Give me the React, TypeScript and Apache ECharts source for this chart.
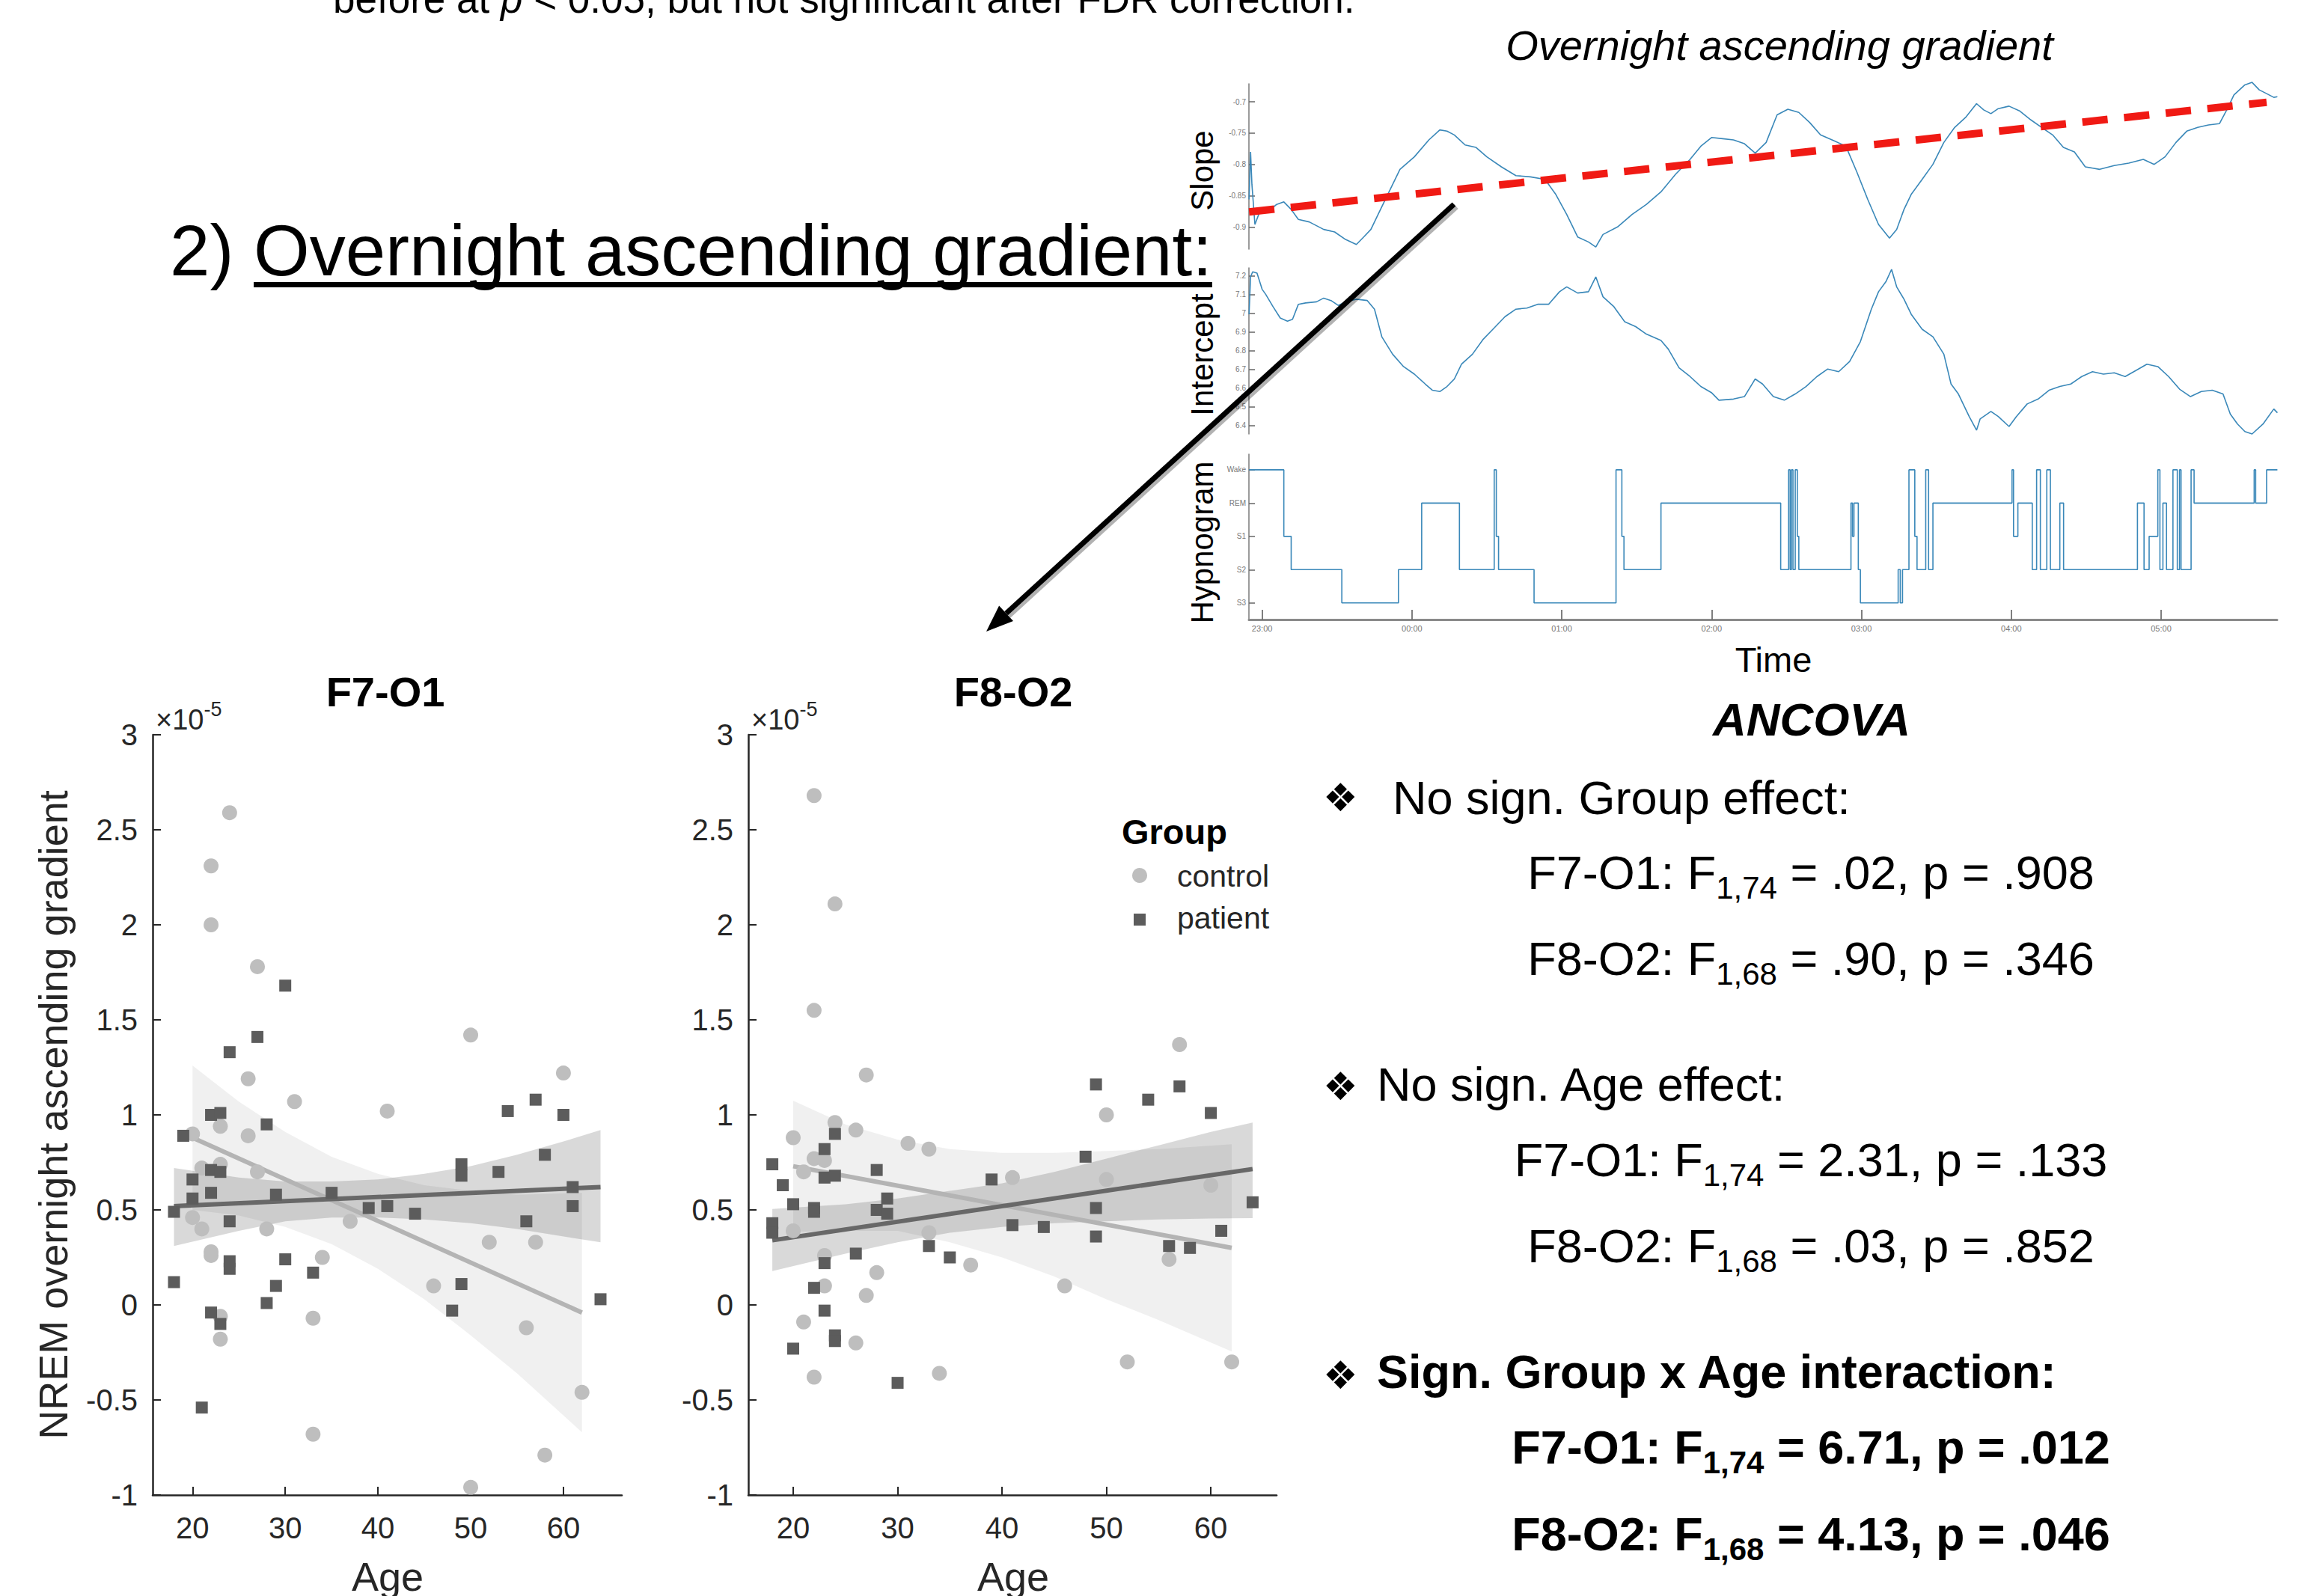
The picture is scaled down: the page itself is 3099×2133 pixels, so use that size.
import React, { useEffect, useRef } from 'react';
import * as echarts from 'echarts';

const FONT = '"Liberation Sans", Arial, Helvetica, sans-serif';
const W = 3099;
const H = 2133;

// ---------------- Top-right panel (time = hours after 23:00) ----------------
const slopeTrace: number[][] = [
  [-0.087, -0.856], [-0.077, -0.78], [-0.068, -0.832], [-0.048, -0.896], [-0.01, -0.872], [0.039, -0.876],
  [0.097, -0.864], [0.145, -0.86], [0.194, -0.872], [0.242, -0.888], [0.315, -0.892], [0.411, -0.904],
  [0.484, -0.908], [0.557, -0.92], [0.629, -0.928], [0.678, -0.916], [0.726, -0.904], [0.774, -0.88],
  [0.847, -0.844], [0.92, -0.808], [1.016, -0.788], [1.113, -0.761], [1.186, -0.745], [1.234, -0.747],
  [1.283, -0.753], [1.355, -0.769], [1.428, -0.773], [1.5, -0.788], [1.597, -0.804], [1.694, -0.818],
  [1.791, -0.82], [1.888, -0.824], [1.96, -0.848], [2.033, -0.88], [2.106, -0.916], [2.178, -0.924],
  [2.227, -0.932], [2.275, -0.912], [2.372, -0.9], [2.469, -0.88], [2.565, -0.864], [2.662, -0.844],
  [2.759, -0.816], [2.856, -0.792], [2.928, -0.771], [3.001, -0.757], [3.074, -0.759], [3.146, -0.761],
  [3.219, -0.767], [3.291, -0.782], [3.364, -0.765], [3.437, -0.721], [3.509, -0.712], [3.582, -0.717],
  [3.654, -0.733], [3.727, -0.753], [3.824, -0.763], [3.896, -0.771], [3.969, -0.812], [4.042, -0.856],
  [4.114, -0.896], [4.187, -0.918], [4.235, -0.904], [4.284, -0.872], [4.332, -0.848], [4.405, -0.824],
  [4.477, -0.8], [4.55, -0.765], [4.622, -0.741], [4.695, -0.725], [4.768, -0.703], [4.816, -0.713],
  [4.864, -0.719], [4.913, -0.711], [4.985, -0.707], [5.058, -0.715], [5.131, -0.729], [5.203, -0.741],
  [5.276, -0.753], [5.348, -0.773], [5.421, -0.78], [5.494, -0.804], [5.59, -0.808], [5.687, -0.802],
  [5.784, -0.798], [5.881, -0.792], [5.954, -0.8], [6.026, -0.788], [6.099, -0.765], [6.171, -0.747],
  [6.244, -0.741], [6.316, -0.737], [6.389, -0.735], [6.438, -0.713], [6.486, -0.689], [6.559, -0.673],
  [6.607, -0.669], [6.655, -0.681], [6.704, -0.687], [6.752, -0.693], [6.776, -0.692],
];
const slopeTrend: number[][] = [[-0.087, -0.876], [6.704, -0.7008]];

const interceptTrace: number[][] = [
  [-0.087, 6.994], [-0.077, 7.193], [-0.063, 7.22], [-0.034, 7.213], [0.0, 7.127], [0.024, 7.1],
  [0.073, 7.034], [0.121, 6.974], [0.169, 6.957], [0.203, 6.967], [0.242, 7.047], [0.29, 7.054],
  [0.363, 7.06], [0.411, 7.08], [0.46, 7.067], [0.508, 7.041], [0.557, 7.06], [0.629, 7.074],
  [0.702, 7.067], [0.75, 7.021], [0.799, 6.874], [0.871, 6.781], [0.944, 6.715], [1.016, 6.675],
  [1.089, 6.622], [1.137, 6.589], [1.186, 6.582], [1.234, 6.609], [1.283, 6.649], [1.331, 6.728],
  [1.404, 6.781], [1.476, 6.861], [1.549, 6.921], [1.621, 6.981], [1.694, 7.021], [1.767, 7.027],
  [1.839, 7.047], [1.912, 7.047], [1.985, 7.114], [2.033, 7.14], [2.106, 7.107], [2.178, 7.114],
  [2.227, 7.193], [2.275, 7.087], [2.348, 7.034], [2.42, 6.954], [2.493, 6.928], [2.565, 6.888],
  [2.662, 6.854], [2.711, 6.808], [2.783, 6.708], [2.856, 6.662], [2.928, 6.609], [3.001, 6.575],
  [3.049, 6.536], [3.146, 6.542], [3.219, 6.555], [3.291, 6.649], [3.34, 6.622], [3.412, 6.555],
  [3.485, 6.536], [3.558, 6.569], [3.63, 6.609], [3.703, 6.662], [3.775, 6.702], [3.848, 6.688],
  [3.921, 6.742], [3.993, 6.848], [4.066, 7.021], [4.114, 7.114], [4.163, 7.167], [4.201, 7.233],
  [4.235, 7.14], [4.284, 7.074], [4.332, 6.994], [4.405, 6.914], [4.477, 6.874], [4.55, 6.781],
  [4.598, 6.622], [4.647, 6.569], [4.719, 6.449], [4.768, 6.376], [4.792, 6.436], [4.864, 6.476],
  [4.913, 6.449], [4.985, 6.396], [5.034, 6.449], [5.106, 6.516], [5.179, 6.542], [5.252, 6.589],
  [5.324, 6.609], [5.397, 6.622], [5.47, 6.662], [5.542, 6.688], [5.615, 6.675], [5.687, 6.682],
  [5.76, 6.662], [5.833, 6.695], [5.905, 6.728], [5.978, 6.715], [6.05, 6.662], [6.123, 6.595],
  [6.196, 6.555], [6.268, 6.582], [6.341, 6.589], [6.413, 6.569], [6.462, 6.462], [6.51, 6.409],
  [6.559, 6.369], [6.607, 6.356], [6.68, 6.409], [6.752, 6.489], [6.776, 6.469],
];

// stage codes: 0 = S3, 1 = S2, 2 = S1, 3 = REM, 4 = Wake
const hypnogram: number[][] = [
  [-0.087, 4], [0.145, 2], [0.194, 1], [0.532, 0], [0.91, 1], [1.065, 3], [1.317, 1], [1.549, 4],
  [1.563, 2], [1.578, 1], [1.815, 0], [2.362, 4], [2.401, 2], [2.415, 1], [2.662, 3], [3.461, 1],
  [3.514, 4], [3.524, 1], [3.533, 4], [3.543, 1], [3.558, 4], [3.572, 2], [3.582, 1], [3.93, 3],
  [3.94, 2], [3.95, 3], [3.979, 1], [3.993, 0], [4.245, 1], [4.259, 0], [4.274, 1], [4.317, 4],
  [4.356, 2], [4.371, 1], [4.429, 4], [4.448, 1], [4.477, 3], [5.005, 4], [5.015, 2], [5.044, 3],
  [5.14, 1], [5.169, 4], [5.194, 1], [5.237, 4], [5.261, 1], [5.324, 3], [5.349, 1], [5.842, 3],
  [5.886, 1], [5.92, 2], [5.978, 4], [5.992, 1], [6.012, 3], [6.036, 1], [6.079, 4], [6.108, 1],
  [6.123, 4], [6.133, 1], [6.2, 4], [6.22, 3], [6.621, 4], [6.631, 3], [6.704, 4], [6.776, 4],
];
const stageNames = ['S3', 'S2', 'S1', 'REM', 'Wake'];
const stageTicks = [0, 1, 2, 3, 4];
const clockTicks = [0, 1, 2, 3, 4, 5, 6];
const clockLabels = ['23:00', '00:00', '01:00', '02:00', '03:00', '04:00', '05:00'];
const slopeTicks = [-0.9, -0.85, -0.8, -0.75, -0.7];
const interceptTicks = [6.4, 6.5, 6.6, 6.7, 6.8, 6.9, 7, 7.1, 7.2];

// ---------------- Scatter panels (values x 1e-5) ----------------
const ageTicks = [20, 30, 40, 50, 60];

const f7Control: number[][] = [
  [24, 2.59], [22, 2.31], [22, 2.0], [27, 1.78], [50, 1.42], [26, 1.19], [60, 1.22], [31, 1.07],
  [41, 1.02], [23, 0.94], [20, 0.9], [26, 0.89], [21, 0.72], [23, 0.74], [27, 0.7], [20, 0.46],
  [21, 0.4], [28, 0.4], [37, 0.44], [22, 0.28], [22, 0.26], [34, 0.25], [52, 0.33], [57, 0.33],
  [46, 0.1], [23, -0.06], [33, -0.07], [23, -0.18], [56, -0.12], [62, -0.46], [33, -0.68],
  [58, -0.79], [50, -0.96],
];
const f7Patient: number[][] = [
  [30, 1.68], [27, 1.41], [24, 1.33], [22, 1.0], [23, 1.01], [54, 1.02], [57, 1.08], [60, 1.0],
  [28, 0.95], [19, 0.89], [20, 0.66], [22, 0.71], [23, 0.7], [20, 0.56], [22, 0.59], [29, 0.58],
  [35, 0.59], [18, 0.49], [39, 0.51], [41, 0.52], [44, 0.48], [49, 0.74], [49, 0.68], [53, 0.7],
  [58, 0.79], [61, 0.62], [61, 0.52], [56, 0.44], [24, 0.44], [24, 0.23], [24, 0.19], [30, 0.24],
  [33, 0.17], [18, 0.12], [29, 0.1], [28, 0.01], [22, -0.04], [23, -0.1], [49, 0.11], [48, -0.03],
  [64, 0.03], [21, -0.54],
];
const f7ControlFit: number[][] = [[20, 0.88], [62, -0.04]];
const f7PatientFit: number[][] = [[18, 0.52], [64, 0.62]];
const f7ControlBandAge = [20, 25, 30, 35, 40, 45, 50, 55, 62];
const f7ControlBandHi = [1.26, 1.07, 0.91, 0.78, 0.69, 0.63, 0.6, 0.58, 0.59];
const f7ControlBandLo = [0.5, 0.47, 0.41, 0.32, 0.19, 0.03, -0.16, -0.36, -0.67];
const f7PatientBandAge = [18, 25, 30, 35, 40, 45, 50, 55, 60, 64];
const f7PatientBandHi = [0.72, 0.67, 0.65, 0.65, 0.66, 0.69, 0.73, 0.79, 0.86, 0.92];
const f7PatientBandLo = [0.31, 0.39, 0.44, 0.46, 0.46, 0.45, 0.43, 0.4, 0.36, 0.33];

const f8Control: number[][] = [
  [22, 2.68], [24, 2.11], [22, 1.55], [27, 1.21], [57, 1.37], [50, 1.0], [24, 0.96], [26, 0.92],
  [20, 0.88], [31, 0.85], [33, 0.82], [22, 0.77], [23, 0.76], [21, 0.7], [41, 0.67], [50, 0.66],
  [60, 0.63], [20, 0.39], [33, 0.38], [23, 0.26], [56, 0.24], [37, 0.21], [28, 0.17], [23, 0.1],
  [46, 0.1], [27, 0.05], [21, -0.09], [26, -0.2], [52, -0.3], [62, -0.3], [34, -0.36], [22, -0.38],
];
const f8Patient: number[][] = [
  [49, 1.16], [57, 1.15], [54, 1.08], [60, 1.01], [24, 0.9], [23, 0.82], [18, 0.74], [28, 0.71],
  [24, 0.68], [23, 0.67], [19, 0.63], [48, 0.78], [39, 0.66], [20, 0.53], [22, 0.51], [22, 0.49],
  [29, 0.56], [28, 0.5], [29, 0.48], [18, 0.43], [18, 0.38], [49, 0.51], [64, 0.54], [41, 0.42],
  [44, 0.41], [49, 0.36], [61, 0.39], [56, 0.31], [58, 0.3], [33, 0.31], [35, 0.25], [26, 0.27],
  [23, 0.22], [22, 0.09], [23, -0.03], [24, -0.16], [24, -0.19], [20, -0.23], [30, -0.41],
];
const f8ControlFit: number[][] = [[20, 0.73], [62, 0.3]];
const f8PatientFit: number[][] = [[18, 0.34], [64, 0.715]];
const f8ControlBandAge = [20, 25, 30, 35, 40, 45, 50, 55, 62];
const f8ControlBandHi = [1.075, 0.95, 0.87, 0.82, 0.8, 0.8, 0.81, 0.82, 0.845];
const f8ControlBandLo = [0.385, 0.39, 0.39, 0.33, 0.25, 0.15, 0.03, -0.08, -0.245];
const f8PatientBandAge = [18, 25, 30, 35, 40, 45, 50, 55, 60, 64];
const f8PatientBandHi = [0.505, 0.53, 0.56, 0.6, 0.64, 0.7, 0.77, 0.84, 0.91, 0.96];
const f8PatientBandLo = [0.178, 0.27, 0.33, 0.38, 0.41, 0.43, 0.44, 0.45, 0.455, 0.457];

// ---------------- colours ----------------
const CONTROL = '#bebebe';
const PATIENT = '#5c5c5c';
const CONTROL_FIT = '#b4b4b4';
const PATIENT_FIT = '#686868';
const CONTROL_BAND = 'rgba(0,0,0,0.06)';
const PATIENT_BAND = 'rgba(0,0,0,0.15)';
const TRACE = '#3a88b9';
const AXIS = '#262626';

// ---------------- text helpers ----------------
let measureCtx: CanvasRenderingContext2D | null = null;
function textWidth(t: string, size: number, bold?: boolean, italic?: boolean, family?: string) {
  if (!measureCtx) measureCtx = document.createElement('canvas').getContext('2d');
  const ctx = measureCtx!;
  ctx.font = `${italic ? 'italic' : 'normal'} ${bold ? 'bold' : 'normal'} ${size}px ${family || FONT}`;
  return ctx.measureText(t).width;
}
type Seg = { t: string; size: number; bold?: boolean; italic?: boolean; dy?: number; family?: string };
function textEl(t: string, x: number, y: number, size: number, opts: any = {}) {
  return {
    type: 'text',
    x,
    y,
    rotation: opts.rotation || 0,
    z: 50,
    silent: true,
    style: {
      text: t,
      fontSize: size,
      fontFamily: opts.family || FONT,
      fontWeight: opts.bold ? 'bold' : 'normal',
      fontStyle: opts.italic ? 'italic' : 'normal',
      fill: opts.color || '#000',
      align: opts.align || 'left',
      textAlign: opts.align || 'left',
      verticalAlign: 'middle',
      textVerticalAlign: 'middle',
    },
  };
}
// baseline-based line with mixed segments
function lineEls(segs: Seg[], x: number, baseline: number, align: 'left' | 'center', color = '#000') {
  const widths = segs.map((s) => textWidth(s.t, s.size, s.bold, s.italic, s.family));
  const total = widths.reduce((a, b) => a + b, 0);
  let cx = align === 'center' ? x - total / 2 : x;
  const els: any[] = [];
  segs.forEach((s, i) => {
    els.push(
      textEl(s.t, cx, baseline + (s.dy || 0) - 0.3465 * s.size, s.size, {
        bold: s.bold,
        italic: s.italic,
        family: s.family,
        color,
      })
    );
    cx += widths[i];
  });
  return els;
}
function statLine(label: string, df: string, rest: string, bold: boolean, baseline: number) {
  return lineEls(
    [
      { t: label + ' F', size: 63, bold },
      { t: df, size: 42, bold, dy: 13 },
      { t: rest, size: 63, bold },
    ],
    2420,
    baseline,
    'center'
  );
}

// ---------------- series helpers ----------------
function bandSeries(idx: number, ages: number[], hi: number[], lo: number[], color: string) {
  return {
    type: 'custom',
    xAxisIndex: idx,
    yAxisIndex: idx,
    silent: true,
    clip: false,
    z: 1,
    data: [[ages[0], lo[0]]],
    renderItem: (_p: any, api: any) => {
      const pts: number[][] = [];
      for (let i = 0; i < ages.length; i++) pts.push(api.coord([ages[i], hi[i]]));
      for (let i = ages.length - 1; i >= 0; i--) pts.push(api.coord([ages[i], lo[i]]));
      return { type: 'polygon', shape: { points: pts }, style: { fill: color } };
    },
  };
}
function fitSeries(idx: number, data: number[][], color: string) {
  return {
    type: 'line',
    xAxisIndex: idx,
    yAxisIndex: idx,
    data,
    showSymbol: false,
    silent: true,
    z: 3,
    lineStyle: { color, width: 6 },
  };
}
function pointSeries(idx: number, data: number[][], symbol: string, size: number, color: string) {
  return {
    type: 'scatter',
    xAxisIndex: idx,
    yAxisIndex: idx,
    data,
    symbol,
    symbolSize: size,
    silent: true,
    z: 4,
    itemStyle: { color, opacity: 1 },
  };
}

function scatterXAxis(gridIndex: number) {
  return {
    type: 'value',
    gridIndex,
    min: 15.7,
    max: 66.3,
    axisLine: { show: true, onZero: false, lineStyle: { color: AXIS, width: 2.5 } },
    axisTick: { show: true, inside: true, length: 11, customValues: ageTicks, lineStyle: { color: AXIS, width: 2 } },
    axisLabel: { show: true, customValues: ageTicks, fontSize: 40, color: AXIS, fontFamily: FONT, margin: 24 },
    splitLine: { show: false },
  };
}
function scatterYAxis(gridIndex: number) {
  return {
    type: 'value',
    gridIndex,
    min: -1,
    max: 3,
    interval: 0.5,
    axisLine: { show: true, onZero: false, lineStyle: { color: AXIS, width: 2.5 } },
    axisTick: { show: true, inside: true, length: 11, lineStyle: { color: AXIS, width: 2 } },
    axisLabel: { show: true, fontSize: 40, color: AXIS, fontFamily: FONT, margin: 20 },
    splitLine: { show: false },
  };
}
function timeXAxis(gridIndex: number, visible: boolean) {
  return {
    type: 'value',
    gridIndex,
    min: -0.088,
    max: 6.774,
    axisLine: { show: visible, onZero: false, lineStyle: { color: '#8a8a8a', width: 3 } },
    axisTick: {
      show: visible,
      inside: true,
      length: 13,
      customValues: clockTicks,
      lineStyle: { color: '#555', width: 1.5 },
    },
    axisLabel: {
      show: visible,
      customValues: clockTicks,
      formatter: (v: number) => clockLabels[Math.round(v)] || '',
      fontSize: 11,
      color: '#777',
      fontFamily: FONT,
      margin: 6,
    },
    splitLine: { show: false },
  };
}
function smallYAxis(gridIndex: number, min: number, max: number, ticks: number[], fmt?: (v: number) => string) {
  return {
    type: 'value',
    gridIndex,
    min,
    max,
    axisLine: { show: true, onZero: false, lineStyle: { color: '#7a7a7a', width: 1.5 } },
    axisTick: { show: true, inside: true, length: 8, customValues: ticks, lineStyle: { color: '#666', width: 1.5 } },
    axisLabel: {
      show: true,
      customValues: ticks,
      formatter: fmt || ((v: number) => String(Math.round(v * 100) / 100)),
      fontSize: 10,
      color: '#777',
      fontFamily: FONT,
      margin: 4,
    },
    splitLine: { show: false },
  };
}

function buildGraphic() {
  const g: any[] = [];
  // cut-off top text (the reference crops it at the top edge)
  g.push(
    ...lineEls(
      [
        { t: 'before at ', size: 53 },
        { t: 'p', size: 53, italic: true },
        { t: ' < 0.05, but not significant after FDR correction.', size: 53 },
      ],
      445,
      17,
      'left'
    )
  );
  // heading
  const headX = 227;
  const hs = 96;
  const w1 = textWidth('2) ', hs);
  const w2 = textWidth('Overnight ascending gradient:', hs);
  g.push(...lineEls([{ t: '2) ', size: hs }, { t: 'Overnight ascending gradient:', size: hs }], headX, 368, 'left'));
  g.push({ type: 'rect', z: 50, silent: true, shape: { x: headX + w1, y: 377, width: w2, height: 7 }, style: { fill: '#000' } });

  // top-right titles
  g.push(...lineEls([{ t: 'Overnight ascending gradient', size: 56, italic: true }], 2378, 80, 'center'));
  g.push(textEl('Slope', 1606, 228, 42, { rotation: Math.PI / 2, align: 'center' }));
  g.push(textEl('Intercept', 1606, 474, 42, { rotation: Math.PI / 2, align: 'center' }));
  g.push(textEl('Hypnogram', 1606, 725, 42, { rotation: Math.PI / 2, align: 'center' }));
  g.push(...lineEls([{ t: 'Time', size: 47 }], 2370, 898, 'center'));

  // arrow
  const ax1 = 1943, ay1 = 273, tipX = 1318, tipY = 844;
  const dx = tipX - ax1, dy = tipY - ay1;
  const len = Math.sqrt(dx * dx + dy * dy);
  const ux = dx / len, uy = dy / len;
  const bx = tipX - 36 * ux, by = tipY - 36 * uy;
  const nx = -uy, ny = ux;
  g.push({ type: 'line', z: 49, silent: true, shape: { x1: ax1 + 3, y1: ay1 + 3, x2: bx + 3, y2: by + 3 }, style: { stroke: 'rgba(0,0,0,0.3)', lineWidth: 8 } });
  g.push({ type: 'line', z: 50, silent: true, shape: { x1: ax1, y1: ay1, x2: bx, y2: by }, style: { stroke: '#000', lineWidth: 7 } });
  g.push({
    type: 'polygon',
    z: 50,
    silent: true,
    shape: { points: [[tipX, tipY], [bx + 14 * nx, by + 14 * ny], [bx - 14 * nx, by - 14 * ny]] },
    style: { fill: '#000' },
  });

  // scatter titles and labels
  g.push(...lineEls([{ t: 'F7-O1', size: 56, bold: true }], 515, 944, 'center'));
  g.push(...lineEls([{ t: 'F8-O2', size: 56, bold: true }], 1354, 944, 'center'));
  g.push(...lineEls([{ t: '\u00d710', size: 38, family: FONT }, { t: '-5', size: 27, dy: -18 }], 208, 975, 'left', AXIS));
  g.push(...lineEls([{ t: '\u00d710', size: 38, family: FONT }, { t: '-5', size: 27, dy: -18 }], 1004, 975, 'left', AXIS));
  g.push(textEl('NREM overnight ascending gradient', 71, 1490, 54, { rotation: Math.PI / 2, align: 'center', color: AXIS }));
  g.push(...lineEls([{ t: 'Age', size: 54 }], 518, 2126, 'center', AXIS));
  g.push(...lineEls([{ t: 'Age', size: 54 }], 1354, 2126, 'center', AXIS));

  // legend
  g.push(...lineEls([{ t: 'Group', size: 47, bold: true }], 1499, 1128, 'left'));
  g.push({ type: 'circle', z: 50, silent: true, shape: { cx: 1523, cy: 1170, r: 10 }, style: { fill: CONTROL } });
  g.push({ type: 'rect', z: 50, silent: true, shape: { x: 1515, y: 1221, width: 16, height: 16 }, style: { fill: PATIENT } });
  g.push(...lineEls([{ t: 'control', size: 41 }], 1573, 1185, 'left', AXIS));
  g.push(...lineEls([{ t: 'patient', size: 41 }], 1573, 1241, 'left', AXIS));

  // ANCOVA block
  g.push(...lineEls([{ t: 'ANCOVA', size: 62, bold: true, italic: true }], 2421, 983, 'center'));
  const bullet = (y: number) => textEl('\u2756', 1768, y, 52, { family: '"DejaVu Sans", sans-serif' });
  g.push(bullet(1066));
  g.push(...lineEls([{ t: 'No sign. Group effect:', size: 63 }], 1861, 1088, 'left'));
  g.push(...statLine('F7-O1:', '1,74', ' = .02, p = .908', false, 1188));
  g.push(...statLine('F8-O2:', '1,68', ' = .90, p = .346', false, 1303));
  g.push(bullet(1452));
  g.push(...lineEls([{ t: 'No sign. Age effect:', size: 63 }], 1840, 1471, 'left'));
  g.push(...statLine('F7-O1:', '1,74', ' = 2.31, p = .133', false, 1572));
  g.push(...statLine('F8-O2:', '1,68', ' = .03, p = .852', false, 1687));
  g.push(bullet(1838));
  g.push(...lineEls([{ t: 'Sign. Group x Age interaction:', size: 63, bold: true }], 1840, 1855, 'left'));
  g.push(...statLine('F7-O1:', '1,74', ' = 6.71, p = .012', true, 1956));
  g.push(...statLine('F8-O2:', '1,68', ' = 4.13, p = .046', true, 2072));
  return g;
}

function buildOption() {
  return {
    animation: false,
    backgroundColor: '#ffffff',
    grid: [
      { left: 1669, top: 112, width: 1374, height: 221 },
      { left: 1669, top: 358, width: 1374, height: 222 },
      { left: 1669, top: 607, width: 1374, height: 221 },
      { left: 204, top: 982, width: 627, height: 1016 },
      { left: 1000, top: 982, width: 706, height: 1016 },
    ],
    xAxis: [timeXAxis(0, false), timeXAxis(1, false), timeXAxis(2, true), scatterXAxis(3), scatterXAxis(4)],
    yAxis: [
      smallYAxis(0, -0.9355, -0.6713, slopeTicks),
      smallYAxis(1, 6.356, 7.241, interceptTicks),
      smallYAxis(2, -0.5, 4.47, stageTicks, (v: number) => stageNames[Math.round(v)] || ''),
      scatterYAxis(3),
      scatterYAxis(4),
    ],
    series: [
      {
        type: 'line', xAxisIndex: 0, yAxisIndex: 0, data: slopeTrace, showSymbol: false, silent: true, clip: false,
        lineStyle: { color: TRACE, width: 1.6 }, z: 2,
      },
      {
        type: 'line', xAxisIndex: 0, yAxisIndex: 0, data: slopeTrend, showSymbol: false, silent: true, clip: false,
        lineStyle: { color: '#f01a14', width: 10, type: [34, 22] }, z: 5,
      },
      {
        type: 'line', xAxisIndex: 1, yAxisIndex: 1, data: interceptTrace, showSymbol: false, silent: true, clip: false,
        lineStyle: { color: TRACE, width: 1.6 }, z: 2,
      },
      {
        type: 'line', xAxisIndex: 2, yAxisIndex: 2, data: hypnogram, step: 'end', showSymbol: false, silent: true,
        clip: false, lineStyle: { color: TRACE, width: 1.6 }, z: 2,
      },
      bandSeries(3, f7ControlBandAge, f7ControlBandHi, f7ControlBandLo, CONTROL_BAND),
      bandSeries(3, f7PatientBandAge, f7PatientBandHi, f7PatientBandLo, PATIENT_BAND),
      fitSeries(3, f7ControlFit, CONTROL_FIT),
      fitSeries(3, f7PatientFit, PATIENT_FIT),
      pointSeries(3, f7Control, 'circle', 20, CONTROL),
      pointSeries(3, f7Patient, 'rect', 16, PATIENT),
      bandSeries(4, f8ControlBandAge, f8ControlBandHi, f8ControlBandLo, CONTROL_BAND),
      bandSeries(4, f8PatientBandAge, f8PatientBandHi, f8PatientBandLo, PATIENT_BAND),
      fitSeries(4, f8ControlFit, CONTROL_FIT),
      fitSeries(4, f8PatientFit, PATIENT_FIT),
      pointSeries(4, f8Control, 'circle', 20, CONTROL),
      pointSeries(4, f8Patient, 'rect', 16, PATIENT),
    ],
    graphic: buildGraphic(),
  };
}

export default function App() {
  const ref = useRef<HTMLDivElement>(null);
  useEffect(() => {
    document.body.style.margin = '0';
    const chart = echarts.init(ref.current!, null, { renderer: 'svg', width: W, height: H });
    chart.setOption(buildOption() as any);
    return () => chart.dispose();
  }, []);
  return (
    <div
      ref={ref}
      style={{ position: 'absolute', left: 0, top: 0, width: W, height: H, background: '#fff', overflow: 'hidden' }}
    />
  );
}
